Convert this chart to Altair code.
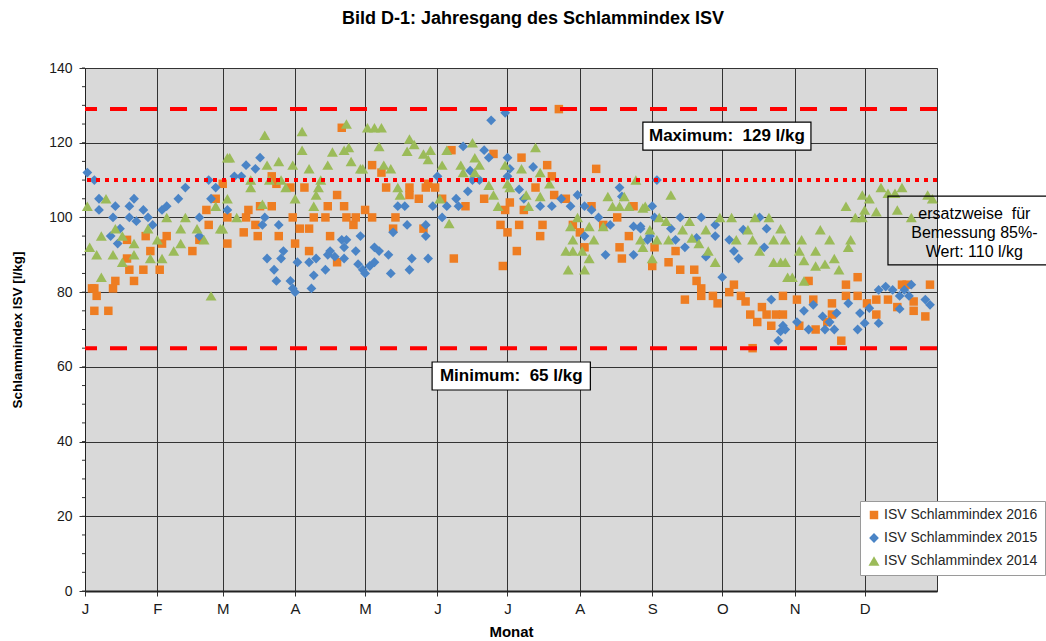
import altair as alt
import pandas as pd

FONT = "Liberation Sans"

SERIES = ["ISV Schlammindex 2016", "ISV Schlammindex 2015", "ISV Schlammindex 2014"]
COLORS = ["#EE7D22", "#4A84C6", "#9BBB59"]
SHAPES = ["square", "diamond", "triangle-up"]
SIZES = [72, 120, 120]

# day of year / sludge volume index [l/kg]
days_2016 = [3, 4, 4, 5, 10, 12, 13, 18, 18, 19, 21, 25, 26, 28, 32, 33, 35, 46, 49, 52, 53, 56, 59, 61, 61,
             68, 69, 70, 73, 74, 75, 80, 80, 82, 83, 88, 89, 90, 92, 94, 96, 96, 98, 103, 104, 105, 108, 108,
             110, 111, 112, 115, 116, 120,
             123, 123, 127, 129, 132, 133, 139, 139, 143, 145, 146, 147, 150, 153, 157, 158, 163, 171, 175,
             178, 179, 180, 181,
             182, 185, 186, 187, 188, 193, 195, 196, 198, 200, 201, 203, 206, 209, 212, 214, 217, 219, 222,
             228, 229, 230, 233, 235,
             243, 244, 250, 253, 255, 257, 261, 262, 264, 264, 269, 271, 276, 278, 281, 283, 285, 286, 288,
             290, 292, 294, 296, 299,
             299, 305, 306, 310, 312, 313, 318, 320, 320, 324, 326, 326, 331, 331, 335, 339, 339, 344, 348,
             350, 352, 355, 355, 360, 362]
isv_2016 = [81, 81, 75, 79, 75, 81, 83, 89, 94, 86, 83, 86, 95, 91, 86, 93, 95, 91, 94, 102, 98, 105, 109, 93, 100,
            96, 100, 102, 98, 95, 103, 103, 111, 109, 95, 108, 100, 93, 97, 108, 97, 91, 100, 100, 103, 95, 106, 88,
            124, 103, 100, 98, 100, 102,
            114, 100, 112, 108, 97, 100, 108, 106, 105, 97, 108, 109, 108, 105, 118, 89, 103, 105, 117,
            98, 87, 102, 96,
            104, 91, 98, 116, 102, 108, 95, 98, 114, 111, 106, 129, 105, 98, 96, 92, 103, 113, 98,
            100, 92, 89, 95, 103,
            87, 92, 88, 91, 86, 78, 86, 83, 81, 79, 79, 77, 80, 82, 79, 77.5, 74, 65, 72,
            76, 74, 71, 74, 79,
            74, 78, 71, 83, 78, 70, 72, 77, 74, 67, 82, 79, 84, 79, 77, 74, 78, 78, 76,
            82, 82, 75, 77.5, 73.5, 82]

days_2015 = [1, 4, 6, 6, 11, 12, 13, 14, 15, 19, 19, 21, 22, 25, 27, 29, 33, 35, 40, 43, 49, 49, 53, 54, 56, 61,
             64, 67, 69, 73, 75, 76, 77, 78, 81, 82, 83, 84, 85, 88, 89, 90, 91, 96, 97, 98, 99, 103, 104, 105,
             107, 110, 111, 111, 112, 116, 117, 118, 119,
             120, 122, 124, 124, 126, 130, 131, 132, 134, 137, 138, 139, 140, 146, 146, 147, 149, 151, 153, 155,
             159, 160, 162, 164, 165, 166, 169, 171, 173, 174, 180, 181,
             181, 182, 186, 188, 192, 195, 200, 204, 208, 211, 214, 214, 217, 220, 223, 225, 229, 230, 235, 235,
             238, 242,
             238, 241, 243, 244, 245, 251, 253, 255, 257, 262, 264, 266, 270, 270, 273, 276, 278, 280, 282, 289,
             291, 292, 294, 297, 298, 299,
             300, 305, 308, 310, 312, 316, 317, 319, 321, 322, 327, 331, 332, 334, 336, 340, 340, 343, 346, 349,
             349, 351, 353, 354, 360, 362]
isv_2015 = [112, 110, 105, 102, 95, 100, 103, 93, 97, 103, 100, 105, 99, 102, 100, 98, 102, 103, 105, 108, 100, 95,
            110, 105, 108, 102,
            111, 111, 114, 113, 116, 98, 100, 89, 86, 83, 98, 89, 91, 83, 81, 80, 88, 88, 81, 84.5, 89, 86, 90, 91,
            89.5, 94, 92, 89, 94, 91, 87.5, 95, 86,
            85, 87, 92, 88, 91, 90, 85, 96, 103, 103, 98, 86, 89, 98, 95, 89, 103, 111, 100, 103,
            105, 103, 119, 107, 112.5, 110, 110, 118, 116, 126, 128, 111,
            116, 113, 107.5, 105, 113.5, 103, 103, 105, 103, 106, 103, 95, 102, 100, 90, 98, 108, 105.6, 97.6, 90,
            97.6, 95,
            97, 94, 103, 100, 110, 97, 94, 100, 92, 94.5, 100, 89.5, 98, 95, 84, 94, 91, 89, 96.7, 100,
            92, 97, 78, 67, 69.5, 71,
            70, 72, 75, 70, 76.6, 73.5, 70, 72, 70, 74.4, 77, 70, 74.4, 71.7, 75.7, 80.6, 71.7, 81.5, 80.6, 79,
            75.5, 80.6, 79, 82, 78, 76.6]

days_2014 = [1, 2, 5, 7, 7, 9, 12, 13, 16, 16, 21, 21, 27, 28, 31, 33, 35, 38, 41, 41, 43, 48, 51, 54, 56, 58, 59,
             61, 61,
             62, 65, 71, 71, 76, 77, 78, 79, 83, 84, 86, 89, 90, 93, 93, 96, 98, 99, 100, 101, 104, 106, 111, 112,
             113, 114, 118, 121,
             119, 124, 126, 127, 128, 131, 134, 135, 138, 139, 141, 145, 147, 148, 152, 153, 155, 156, 161, 162,
             166, 167, 167, 169, 173, 175, 177, 180, 181,
             182, 187, 189, 190, 193, 195, 195, 199, 206, 207, 208, 209, 209, 211, 213, 214, 216, 216, 218, 222,
             224, 226, 229, 231, 233, 236, 238, 239, 240,
             239, 242, 243, 245, 246, 249, 250, 251, 256, 259, 260, 263, 266, 267, 270, 272, 277, 279, 284, 286,
             287, 289, 293, 295, 295, 298, 298, 301,
             300, 300, 303, 306, 307, 308, 308, 313, 313, 315, 317, 319, 321, 323, 326, 327, 328, 330, 333, 333,
             334, 336, 339, 341, 344, 347, 348, 350, 354, 361, 363]
isv_2014 = [103, 92, 90, 95, 84, 105, 90, 97, 95, 88, 93, 90, 97, 89, 94, 89, 100, 91, 93, 97, 100, 97, 94, 79, 103,
            97, 97, 116, 105,
            116, 100, 110, 108, 103.5, 122, 114, 110, 115, 110, 108, 114, 105, 123, 118, 113, 103, 106, 108, 110,
            114, 117.5, 118, 125, 118.7, 115, 113, 124,
            113, 124, 119, 124, 114, 113, 108, 106, 117.7, 121, 119.5, 117, 115.5, 118, 105, 114, 118, 98.4, 114,
            112, 120, 116, 112, 114, 108.6, 106, 103, 114, 109,
            108, 113, 106, 103, 118.7, 112, 105.6, 109, 91, 86, 97.6, 94, 91, 100, 91, 86, 97.6, 89, 94, 97.6,
            105.6, 103, 103, 105.6, 103, 110, 94, 92, 103,
            102.5, 96.7, 89, 94, 100, 99, 94, 106, 96.7, 99, 94.5, 93, 96.7, 91, 88, 100, 100, 94, 96.7, 94,
            100, 91, 100, 94, 88, 97, 88, 84,
            94, 88, 84, 91, 94, 88.5, 83, 91, 87, 96.7, 87.5, 94, 89, 86, 103, 92, 94, 100, 100, 106,
            102, 105, 101.5, 108, 106.5, 106.5, 102, 108, 100, 106, 105]

# month starts (day of year) and their initials
month_days = [0, 31, 59, 90, 120, 151, 181, 212, 243, 273, 304, 334]
month_initials = ["J", "F", "M", "A", "M", "J", "J", "A", "S", "O", "N", "D"]

# reference levels [l/kg]
isv_max = 129
isv_min = 65
isv_design = 110

frames = []
for rank, (name, d, v) in enumerate(zip(SERIES, [days_2016, days_2015, days_2014],
                                         [isv_2016, isv_2015, isv_2014])):
    frames.append(pd.DataFrame({"Tag": d, "ISV": v, "Serie": name, "rank": rank}))
points_df = pd.concat(frames, ignore_index=True)

x_scale = alt.Scale(domain=[0, 365], nice=False, zero=False)
y_scale = alt.Scale(domain=[0, 140], nice=False)

label_expr = ("[" + ",".join(f"'{m}'" for m in month_initials) + "][indexof(["
              + ",".join(str(d) for d in month_days) + "], datum.value)]")

legend_cfg = dict(
    title=None, orient="none", legendX=775, legendY=433,
    fillColor="white", strokeColor="#9a9a9a", padding=7,
    labelFont=FONT, labelFontSize=14, labelColor="#262626", labelOffset=3,
    rowPadding=9, symbolSize=45, symbolStrokeWidth=0, symbolOpacity=1,
)

points = alt.Chart(points_df).mark_point(filled=True, opacity=1, strokeWidth=0).encode(
    x=alt.X("Tag:Q", scale=x_scale,
            axis=alt.Axis(values=month_days, labelExpr=label_expr, title="Monat",
                          grid=True, gridColor="#333333", gridWidth=1, gridOpacity=1,
                          tickSize=5, tickColor="#333333", domainColor="#222222", domainWidth=2,
                          labelFont=FONT, labelFontSize=15, labelColor="#1a1a1a", labelFlush=False,
                          labelPadding=5, titleFont=FONT, titleFontSize=15, titleFontWeight="bold",
                          titleColor="#000000", titlePadding=8)),
    y=alt.Y("ISV:Q", scale=y_scale,
            axis=alt.Axis(values=list(range(0, 141, 20)), title="Schlammindex  ISV [l/kg]",
                          grid=True, gridColor="#333333", gridWidth=1, gridOpacity=1,
                          tickSize=6, tickColor="#333333", domainColor="#222222", domainWidth=1,
                          labelFont=FONT, labelFontSize=14, labelColor="#1a1a1a", labelPadding=7,
                          titleFont=FONT, titleFontSize=13.5, titleFontWeight="bold",
                          titleColor="#000000", titlePadding=24)),
    color=alt.Color("Serie:N", scale=alt.Scale(domain=SERIES, range=COLORS), legend=alt.Legend(**legend_cfg)),
    shape=alt.Shape("Serie:N", scale=alt.Scale(domain=SERIES, range=SHAPES), legend=alt.Legend(**legend_cfg)),
    size=alt.Size("Serie:N", scale=alt.Scale(domain=SERIES, range=SIZES), legend=None),
    order=alt.Order("rank:Q"),
)

# minor ticks every 5 l/kg on the value axis
minor_df = pd.DataFrame({"ISV": list(range(0, 141, 5))})
minor_ticks = alt.Chart(minor_df).mark_rule(color="#333333", strokeWidth=1).encode(
    x=alt.value(-3), x2=alt.value(0), y=alt.Y("ISV:Q", scale=y_scale)
)

limits_df = pd.DataFrame({"ISV": [isv_max, isv_min]})
limit_lines = alt.Chart(limits_df).mark_rule(color="#FF0000", strokeWidth=4, strokeDash=[17, 13]).encode(
    y=alt.Y("ISV:Q", scale=y_scale)
)
design_df = pd.DataFrame({"ISV": [isv_design]})
design_line = alt.Chart(design_df).mark_rule(color="#FF0000", strokeWidth=4, strokeDash=[4, 5]).encode(
    y=alt.Y("ISV:Q", scale=y_scale)
)

# text boxes
box_df = pd.DataFrame({
    "Tag": [239, 148.7, 344], "Tag2": [311, 216.5, 412],
    "ISV": [125.5, 61.3, 105.7], "ISV2": [118.0, 53.8, 87.3],
    "fill": ["white", "white", "transparent"],
})
boxes = alt.Chart(box_df).mark_rect(stroke="#000000", strokeWidth=1.2).encode(
    x=alt.X("Tag:Q", scale=x_scale), x2="Tag2:Q",
    y=alt.Y("ISV:Q", scale=y_scale), y2="ISV2:Q",
    fill=alt.Fill("fill:N", scale=None),
)

bold_df = pd.DataFrame({
    "Tag": [275, 182.6], "ISV": [121.8, 57.5],
    "t": [f"Maximum:\u00a0 {isv_max} l/kg", f"Minimum:\u00a0 {isv_min} l/kg"],
})
bold_text = alt.Chart(bold_df).mark_text(font=FONT, fontSize=17, fontWeight="bold", color="#000000",
                                         align="center", baseline="middle").encode(
    x=alt.X("Tag:Q", scale=x_scale), y=alt.Y("ISV:Q", scale=y_scale), text="t:N"
)

note_df = pd.DataFrame({
    "Tag": [381, 381, 381], "ISV": [100.8, 95.7, 90.7],
    "t": ["ersatzweise\u00a0 für", "Bemessung 85%-", f"Wert: {isv_design} l/kg"],
})
note_text = alt.Chart(note_df).mark_text(font=FONT, fontSize=16, color="#000000",
                                         align="center", baseline="middle").encode(
    x=alt.X("Tag:Q", scale=x_scale), y=alt.Y("ISV:Q", scale=y_scale), text="t:N"
)

chart = alt.layer(
    points, minor_ticks, limit_lines, design_line, boxes, bold_text, note_text
).properties(
    width=852, height=523,
    title=alt.TitleParams("Bild D-1: Jahresgang des Schlammindex ISV", font=FONT, fontSize=18,
                          fontWeight="bold", color="#000000", anchor="middle", dx=22, offset=33),
    autosize=alt.AutoSizeParams(type="none"),
    padding={"left": 85, "top": 68, "right": 109, "bottom": 50},
    background="white",
).configure_view(
    fill="#D9D9D9", stroke="#333333", strokeWidth=1
)

chart.save("out.html", embed_options={"renderer": "svg", "actions": False})
